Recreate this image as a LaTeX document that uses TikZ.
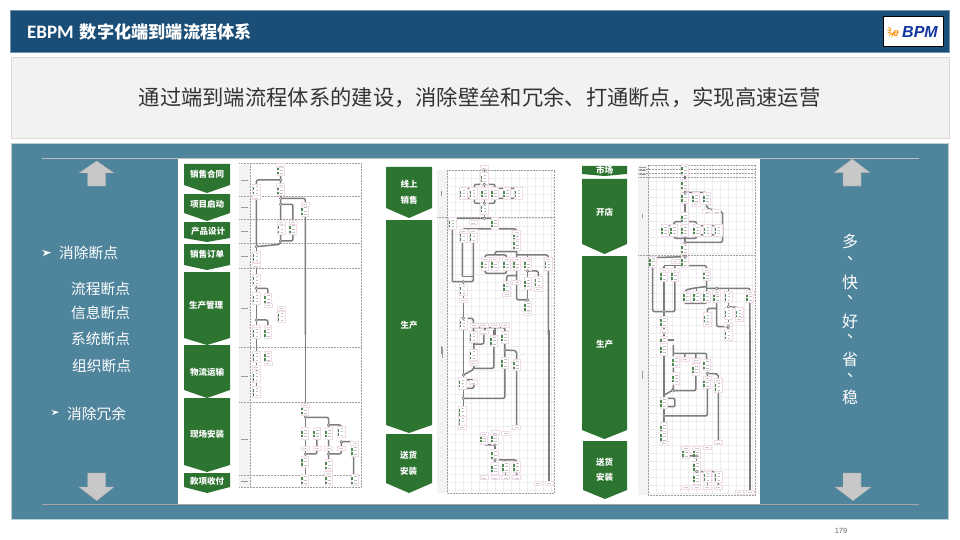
\documentclass[tikz,border=0pt]{standalone}
\usepackage{fontspec}
\setmainfont{Noto Sans CJK SC}
\newfontfamily\latinb{Carlito}
\newfontfamily\logof{Liberation Sans}
\newfontfamily\pagef{Liberation Sans}
\newfontfamily\cjktc{Noto Sans CJK TC}
\definecolor{hdr}{HTML}{1B4E76}
\definecolor{panel}{HTML}{4F859C}
\definecolor{gr}{HTML}{2E7431}
\definecolor{pk}{HTML}{F0DCE8}
\definecolor{ar}{HTML}{C8C8C8}
\definecolor{cn}{HTML}{7C7C7C}
\definecolor{gd}{HTML}{EEEEEE}
\definecolor{colf}{HTML}{F3F3F3}
\tikzset{
  flowline/.style={draw=cn,line width=1.5pt,rounded corners=2pt},
  sep/.style={draw=gray!75,line width=0.5pt,densely dotted},
  pentafill/.style={fill=gr},
  pentatext/.style={text=white,font=\bfseries\fontsize{8.5}{10}\selectfont,inner sep=0pt,align=center},
  sidetext/.style={text=white,font=\fontsize{14.7}{16}\selectfont,inner sep=0pt},
  vtext/.style={text=white,font=\fontsize{16}{18}\selectfont,inner sep=0pt},
  bigarrow/.style={fill=ar,draw=ar!85!black,line width=0.3pt},
}
\newcommand\penta[5]{\fill[pentafill] (#1,#3)--(#2,#3)--(#2,#4)--({(#1+#2)/2},#5)--(#1,#4)--cycle;}
\newcommand\elems[1]{\foreach \x/\y in {#1}{
  \draw[pk,fill=white,line width=0.4pt] (\x-11,\y-17) rectangle (\x+11,\y+17);
  \fill[gr!85] (\x-11,\y-8) rectangle (\x-6,\y+1);
  \fill[gr!85] (\x-11,\y+5) rectangle (\x-6,\y+12);
  \draw[gray!50,line width=0.3pt] (\x-2,\y-11)--(\x+6,\y-11) (\x-2,\y-1)--(\x+6,\y-1) (\x-2,\y+9)--(\x+6,\y+9);
}}
\newcommand\flowtags[1]{\foreach \x/\y in {#1}{
  \draw[pk,fill=white,line width=0.5pt] (\x-12,\y-6) rectangle (\x+12,\y+6);
  \draw[gray!40,line width=0.3pt] (\x-6,\y)--(\x+6,\y);
}}
\newcommand\junctions[1]{\foreach \x/\y in {#1}{\draw[cn,fill=white,line width=0.6pt] (\x,\y) circle (1.3pt);}}
\newcommand\rowmarks[1]{\foreach \x/\y in {#1}{\draw[gray!80,line width=0.5pt] (\x-10,\y)--(\x+10,\y);}}
\begin{document}
\begin{tikzpicture}[x=1pt,y=-1pt]
\useasboundingbox (0,0) rectangle (960,540);
\fill[white] (0,0) rectangle (960,540);
% header
\draw[fill=hdr,draw=hdr!60!white,line width=0.5pt] (10.5,10.5) rectangle (949,52);
\node[anchor=west,inner sep=0pt,text=white,font=\bfseries\fontsize{17.2}{20}\selectfont] (title) at (27,32) {{\latinb\fontsize{19}{20}\selectfont EBPM}\hspace{6pt}数字化端到端流程体系};
\draw[black,fill=white,line width=0.8pt] (883,16.5) rectangle (943,46.5);
\node[inner sep=0pt,text=orange!90!yellow,font=\logof\bfseries\itshape\fontsize{11}{12}\selectfont] (loge) at (896,33.5) {e};
\foreach \a in {100,130,160,190,220}{\draw[orange!90!yellow,line width=0.9pt,line cap=round] (893,31)++(\a:2.5)--++(\a:3);}
\node[inner sep=0pt,text=hdr!70!blue,font=\logof\bfseries\itshape\fontsize{16}{18}\selectfont] (logo) at (920,32) {BPM};
% subtitle
\draw[fill=gray!10,draw=gray!30,line width=0.6pt] (11,57) rectangle (949,138);
\node[inner sep=0pt,text=black!80,font=\fontsize{21.3}{24}\selectfont] (sub) at (479.5,98) {通过端到端流程体系的建设，消除壁垒和冗余、打通断点，实现高速运营};
% panel
\draw[fill=panel,draw=panel!40!white,line width=0.6pt] (11,143) rectangle (948.5,519);
\fill[white] (178,158) rectangle (760,504);
\draw[gray!50,line width=0.9pt] (42,158.3)--(918.5,158.3);
\draw[gray!70,line width=0.9pt] (42,504)--(918.5,504);
% arrows
\draw[bigarrow] (96.7,161)--(114,173)--(105.7,173)--(105.7,186)--(87.7,186)--(87.7,173)--(79,173)--cycle;
\draw[bigarrow] (87.7,473)--(105.7,473)--(105.7,487)--(114,487)--(96.7,500.7)--(79,487)--(87.7,487)--cycle;
\draw[bigarrow] (852.3,159)--(870,172.7)--(861,172.7)--(861,186)--(843,186)--(843,172.7)--(834,172.7)--cycle;
\draw[bigarrow] (843,473)--(861,473)--(861,487)--(871,487)--(853,500.7)--(835,487)--(843,487)--cycle;
% left text
\fill[white] (42,250)--(51,252.5)--(43,256)--(45,252.5)--cycle;
\fill[white] (51,410)--(59,412)--(52,415)--(54,412)--cycle;
\node[sidetext,anchor=west] (t1) at (59,253) {消除断点};
\node[sidetext,anchor=west] (t2) at (71,288.5) {流程断点};
\node[sidetext,anchor=west] (t3) at (71,313) {信息断点};
\node[sidetext,anchor=west] (t4) at (71,339) {系统断点};
\node[sidetext,anchor=west] (t5) at (72,365.5) {组织断点};
\node[sidetext,anchor=west] (t6) at (67,414) {消除冗余};
% right text
\node[vtext] (v1) at (850,241) {多};
\node[vtext] (d1) at (850,260) {\cjktc 、};
\node[vtext] (v2) at (850,282) {快};
\node[vtext] (d2) at (850,299) {\cjktc 、};
\node[vtext] (v3) at (850,321) {好};
\node[vtext] (d3) at (850,338) {\cjktc 、};
\node[vtext] (v4) at (850,359) {省};
\node[vtext] (d4) at (850,377) {\cjktc 、};
\node[vtext] (v5) at (850,397) {稳};
% page number
\node[inner sep=0pt,text=gray!80!black,font=\pagef\fontsize{7.5}{9}\selectfont] (pg) at (841,531) {179};

%%% CHART 1
\penta{184}{230}{164}{185}{193}
\penta{184}{230}{194}{213}{221}
\penta{184}{230}{222}{238}{242}
\penta{184}{230}{244}{265}{270}
\penta{184}{230}{272}{338}{345}
\penta{184}{230}{345}{390}{398}
\penta{184}{230}{398}{465}{472}
\penta{184}{230}{473}{487}{493}
\node[pentatext] (a1) at (207,174.5) {销售合同};
\node[pentatext] (a2) at (207,204) {项目启动};
\node[pentatext] (a3) at (208,231) {产品设计};
\node[pentatext] (a4) at (207,254) {销售订单};
\node[pentatext] (a5) at (206,305) {生产管理};
\node[pentatext] (a6) at (207,372.5) {物流运输};
\node[pentatext] (a7) at (207,434) {现场安装};
\node[pentatext] (a8) at (207,481) {款项收付};
\fill[colf] (239,165) rectangle (250,487);
\foreach \yy in {163,196,219,243,268,347,402,475,487}{\draw[sep] (239,\yy)--(361,\yy);}
\draw[sep] (250,163)--(250,487) (361,163)--(361,487);
\begin{scope}[shift={(178,155)},x=0.3333pt,y=-0.3333pt]
 \rowmarks{199/75,199/158,199/230,199/305,199/460}
 \draw[flowline] (308,30)--(308,130) (308,75)--(235,75)--(235,275)--(308,268)--(308,130);
 \draw[flowline] (308,130)--(382,130)--(382,540);
 \draw[flowline] (308,148)--(345,148)--(345,258)--(308,258);
 \draw[flowline] (235,275)--(235,540);
 \draw[flowline] (235,400)--(270,400)--(270,425);
 \draw[flowline] (235,495)--(270,495)--(270,520);
 \elems{308/45,235/105,308/105,381/168,310/222,345/222,235/305,235/375,235/430,270/432,310/485,235/528,270/528}
 \flowtags{308/32,235/128,308/90,381/148,310/202,345/202,235/332,270/450,310/460}
 \junctions{308/75,308/130,308/148,308/258,235/275,235/400,235/495}
\end{scope}
\begin{scope}[shift={(178,330)},x=0.3333pt,y=-0.3333pt]
 \rowmarks{199/138,199/328,199/455}
 \draw[flowline] (235,0)--(235,200);
 \draw[flowline] (382,0)--(382,440);
 \draw[flowline] (382,262)--(452,262)--(452,440);
 \draw[flowline] (452,285)--(490,285)--(490,300);
 \draw[flowline] (382,372)--(417,372)--(417,320);
 \draw[flowline] (452,372)--(490,372)--(490,335)--(527,335)--(527,440);
 \elems{235/8,270/8,235/80,270/80,235/140,235/185,381/240,381/310,417/310,452/310,490/305,381/395,452/405,381/450,452/450,530/362,530/450}
 \flowtags{381/225,381/355,417/355,452/355,490/355,452/430,530/340,235/112,270/100}
 \junctions{382/262,452/285,382/372,452/372,490/335}
\end{scope}

%%% CHART 2
\penta{386}{432}{167}{208}{218}
\penta{386}{432}{220}{425}{433}
\penta{386}{432}{434}{483}{493}
\node[pentatext,font=\bfseries\fontsize{8.5}{13}\selectfont] (b1) at (409,192) {线上\\[3pt]销售};
\node[pentatext,font=\bfseries\fontsize{8.5}{13}\selectfont] (b2) at (409,325.5) {生产};
\node[pentatext,font=\bfseries\fontsize{8.5}{13}\selectfont] (b3) at (408.5,463) {送货\\[3pt]安装};
\fill[colf] (437,170) rectangle (447,493);
\draw[gd,line width=0.3pt,step=8pt,shift={(447,170)}] (0,0) grid (107,323);
\draw[sep] (447,170) rectangle (554,493);
\draw[sep] (437,217)--(554,217);
\begin{scope}[shift={(375,155)},x=0.3333pt,y=-0.3333pt]
 \draw[gray!80,line width=0.8pt] (198,108)--(198,122);
 \draw[flowline] (328,45)--(328,190);
 \draw[flowline] (298,100)--(298,88)--(360,88)--(360,145)--(298,145)--(298,100);
 \draw[flowline] (265,100)--(298,100)--(298,130)--(265,130)--cycle;
 \draw[flowline] (360,100)--(430,100)--(430,130)--(360,130);
 \draw[flowline] (395,100)--(395,130);
 \draw[flowline] (232,380)--(232,190)--(360,190)--(360,222);
 \draw[flowline] (232,380)--(295,380)--(295,222);
 \draw[flowline] (262,365)--(262,222)--(425,222)--(425,300);
 \draw[flowline] (265,365)--(295,365);
 \draw[flowline] (265,380)--(265,540);
 \draw[flowline] (360,300)--(360,290)--(425,290);
 \draw[flowline] (330,300)--(395,300)--(395,355)--(330,355)--cycle;
 \draw[flowline] (425,300)--(520,300)--(520,540);
 \draw[flowline] (425,300)--(425,435)--(458,435);
 \draw[flowline] (458,300)--(458,470);
 \draw[flowline] (458,348)--(490,348)--(490,375);
 \draw[flowline] (425,362)--(395,362)--(395,385);
 \draw[flowline] (265,490)--(295,490)--(295,540);
 \draw[flowline] (295,518)--(390,518)--(390,540);
 \draw[flowline] (330,518)--(330,540) (360,518)--(360,540);
 \elems{328/70,265/115,295/115,330/115,360/115,395/115,430/115,328/160,232/205,360/205,265/245,295/245,425/245,425/270,330/328,360/328,395/328,425/328,458/328,520/328,458/385,490/380,395/395,458/455,265/405,265/505}
 \flowtags{328/38,295/203,265/228,295/228,425/232,330/312,360/312,395/312,425/312,458/312,520/312,425/382,395/418,490/402,265/435,458/475,297/510,327/510,360/510,390/510}
 \junctions{328/88,328/145,328/190,265/380,458/348,458/435,265/490}
\end{scope}
\begin{scope}[shift={(375,330)},x=0.3333pt,y=-0.3333pt]
 \draw[gray!80,line width=0.8pt] (198,48)--(198,72) (203,50)--(203,85);
 \draw[flowline] (265,0)--(265,292);
 \draw[flowline] (297,0)--(297,118)--(265,135);
 \draw[flowline] (297,42)--(327,42)--(327,12);
 \draw[flowline] (357,0)--(357,115)--(297,115);
 \draw[flowline] (390,0)--(390,205)--(265,205);
 \draw[flowline] (390,60)--(425,62)--(425,290);
 \draw[flowline] (250,150)--(297,150)--(297,175)--(250,175);
 \draw[flowline] (522,0)--(522,460);
 \draw[flowline] (327,335)--(327,345)--(360,345);
 \draw[flowline] (360,335)--(360,430);
 \draw[flowline] (360,390)--(425,390)--(425,435);
 \draw[flowline] (392,390)--(392,435);
 \elems{295/20,357/32,390/22,295/75,390/98,425/105,262/160,262/245,262/275,327/325,360/325,360/375,360/415,392/410,425/410}
 \flowtags{327/8,295/100,295/158,425/292,392/310,327/312,360/308,327/443,360/443,392/443,425/443,490/460,522/460,262/292}
 \junctions{265/135,265/205,360/345,360/390,390/60}
\end{scope}

%%% CHART 3
\fill[pentafill] (582,166)--(627,166)--(627,174)--(604.5,176)--(582,174)--cycle;
\penta{582}{627}{179}{244}{254}
\penta{582}{627}{256}{430}{439}
\penta{583}{627}{441}{490}{499}
\begin{scope}
\clip (575,165) rectangle (640,177);
\node[pentatext,font=\bfseries\fontsize{8.5}{11}\selectfont] (c1) at (604.5,170) {市场};
\end{scope}
\node[pentatext,font=\bfseries\fontsize{8.5}{11}\selectfont] (c2) at (604.5,212) {开店};
\node[pentatext,font=\bfseries\fontsize{8.5}{11}\selectfont] (c3) at (604.5,344) {生产};
\node[pentatext,font=\bfseries\fontsize{8.5}{13}\selectfont] (c4) at (604.5,470) {送货\\[2pt]安装};
\fill[colf] (638,165) rectangle (648,495);
\draw[gd,line width=0.3pt,step=8pt,shift={(648,165)}] (0,0) grid (107,330);
\draw[sep] (648,165) rectangle (755,495);
\foreach \yy in {169,173,177,255}{\draw[sep] (638,\yy)--(755,\yy);}
\begin{scope}[shift={(570,155)},x=0.3333pt,y=-0.3333pt]
 \rowmarks{218/37,218/47,218/57}
 \draw[gray!80,line width=0.8pt] (218,178)--(218,188);
 \draw[flowline] (345,30)--(345,310);
 \draw[flowline] (345,112)--(410,112)--(410,160)--(458,170)--(458,262)--(345,262);
 \draw[flowline] (312,212)--(312,200)--(380,200)--(380,250)--(312,250)--(312,212);
 \draw[flowline] (280,212)--(312,212)--(312,240)--(280,240)--cycle;
 \draw[flowline] (380,212)--(445,212)--(445,240)--(380,240);
 \draw[flowline] (410,212)--(410,240);
 \draw[flowline] (282,470)--(248,470)--(248,308)--(345,305);
 \draw[flowline] (345,305)--(345,332)--(410,332)--(410,395);
 \draw[flowline] (282,332)--(345,332);
 \draw[flowline] (282,332)--(282,540);
 \draw[flowline] (315,332)--(315,470)--(282,470);
 \draw[flowline] (345,445)--(345,405)--(380,398)--(410,395);
 \draw[flowline] (345,445)--(410,445)--(410,395);
 \draw[flowline] (380,398)--(380,445);
 \draw[flowline] (410,400)--(540,400)--(540,540);
 \draw[flowline] (440,400)--(440,515)--(475,515)--(475,535);
 \draw[flowline] (475,400)--(475,520);
 \draw[flowline] (475,455)--(508,458)--(508,480);
 \draw[flowline] (440,460)--(412,460)--(412,485);
 \elems{345/45,345/90,345/128,378/130,410/130,345/190,285/226,312/226,345/226,380/226,412/226,445/226,345/282,248/320,345/320,282/362,315/362,410/360,350/425,380/425,410/425,440/425,475/425,540/425,412/490,475/475,508/475,282/500}
 \flowtags{378/148,410/170,440/170,315/318,282/345,315/345,410/345,412/508,508/492,282/530,475/508,540/412,440/412}
 \junctions{345/112,345/262,345/305,282/470,475/455,475/515,440/400}
\end{scope}
\begin{scope}[shift={(570,330)},x=0.3333pt,y=-0.3333pt]
 \draw[gray!80,line width=0.8pt] (218,122)--(218,148);
 \draw[flowline] (282,0)--(282,335);
 \draw[flowline] (282,30)--(312,30);
 \draw[flowline] (310,45)--(310,180)--(282,195);
 \draw[flowline] (310,70)--(410,70)--(410,95);
 \draw[flowline] (345,70)--(345,85) (378,70)--(378,182)--(310,182);
 \draw[flowline] (412,130)--(412,258)--(282,258);
 \draw[flowline] (412,130)--(445,132)--(445,335);
 \draw[flowline] (270,205)--(315,205)--(315,230)--(270,230);
 \draw[flowline] (540,0)--(540,485);
 \draw[flowline] (347,365)--(347,378)--(380,378);
 \draw[flowline] (380,365)--(380,465);
 \draw[flowline] (380,425)--(445,425)--(445,465);
 \draw[flowline] (412,425)--(412,465);
 \elems{475/15,282/35,282/58,318/95,378/118,410/105,318/145,445/170,410/158,282/218,282/295,282/320,347/368,380/368,380/410,380/445,412/440,445/440}
 \flowtags{282/5,345/88,378/90,282/340,445/338,412/145,445/150,347/355,380/355,412/352,347/472,380/472,412/472,445/472,508/487,540/487}
 \junctions{282/258,412/130,312/182,380/425,380/378}
\end{scope}
\end{tikzpicture}
\end{document}
